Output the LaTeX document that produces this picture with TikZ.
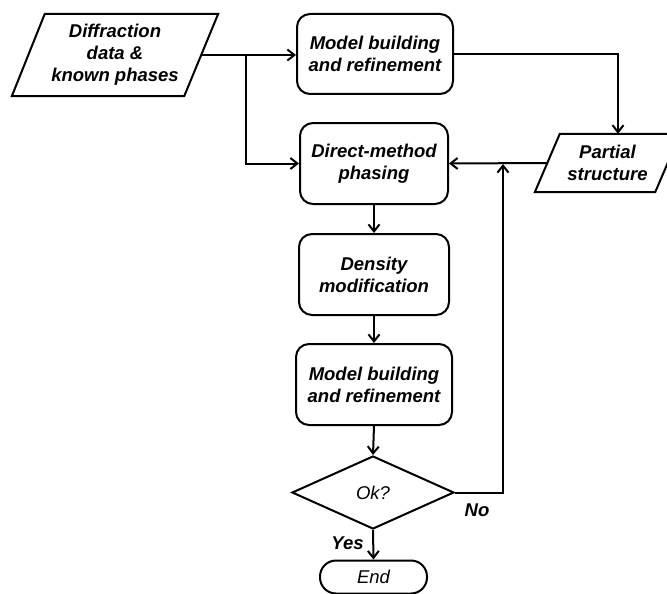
\documentclass[tikz,border=0pt]{standalone}
\usepackage{fontspec}
\setmainfont{Liberation Sans}
\usetikzlibrary{shapes.geometric,arrows.meta,calc}
\begin{document}
\begin{tikzpicture}[x=1pt,y=-1pt,
  every node/.style={font=\fontsize{18.5}{22}\selectfont\bfseries\itshape, align=center, inner sep=0pt},
  line/.style={line width=2pt},
  arr/.style={line width=2pt, -{Straight Barb[length=7pt,width=11pt,line width=2pt]}},
  procbox/.style={draw, line width=2pt, rounded corners=13pt},
  slantbox/.style={}]
\clip (0,0) rectangle (667,594);
\fill[white] (0,0) rectangle (667,594);

% Diffraction data parallelogram
\node[slantbox, minimum width=206pt, minimum height=82pt] (diff) at (115,55) {Diffraction\\data \&\\known phases};
\draw[line, line join=miter] ($(diff.north west)+(33,0)$) -- (diff.north east) -- ($(diff.south east)+(-34,0)$) -- (diff.south west) -- cycle;
\coordinate (diffR) at ($(diff.east)+(-17,0)$);

% Partial structure parallelogram
\node[slantbox, minimum width=145pt, minimum height=58pt] (ps) at (607.5,163) {Partial\\structure};
\draw[line, line join=miter] ($(ps.north west)+(25,0)$) -- (ps.north east) -- ($(ps.south east)+(-25,0)$) -- (ps.south west) -- cycle;
\coordinate (psL) at ($(ps.west)+(12.5,0)$);

% Process boxes
\node[procbox, minimum width=156pt, minimum height=80pt] (mb1) at (375,54) {Model building\\and refinement};
\node[procbox, minimum width=148pt, minimum height=81pt] (dm) at (374,163.5) {Direct-method\\phasing};
\node[procbox, minimum width=150pt, minimum height=81pt] (dens) at (374,274.5) {Density\\modification};
\node[procbox, minimum width=156pt, minimum height=81pt] (mb2) at (374,384.5) {Model building\\and refinement};

% Decision
\node[draw, line width=2pt, diamond, aspect=2.22, minimum width=162pt, minimum height=73pt,
      font=\fontsize{18.5}{22}\selectfont\itshape] (ok) at (373,492.5) {Ok?};

% End
\node[draw, line width=2pt, rounded corners=16pt, minimum width=107pt, minimum height=33pt,
      font=\fontsize{18.5}{22}\selectfont\itshape] (end) at (373.5,577) {End};

% Connectors
\coordinate (split) at (246,55);
\draw[arr] (diffR) -- (diffR -| mb1.west);
\draw[arr] (split) |- (dm.west);
\draw[arr] (mb1.east) -| ($(ps.north)+(10.5,0)$);
\draw[arr] (psL) -- (dm.east);
\draw[arr] (dm.south) -- (dens.north);
\draw[arr] (dens.south) -- (mb2.north);
\draw[arr] (mb2.south) -- (ok.north);
\draw[arr] (ok.south) -- (end.north);
\coordinate (loopTop) at (503,164);
\draw[arr] (ok.east) -| (loopTop);

% Labels
\node (no) at (477,510) {No};
\node (yes) at (347.5,543) {Yes};
\end{tikzpicture}
\end{document}
